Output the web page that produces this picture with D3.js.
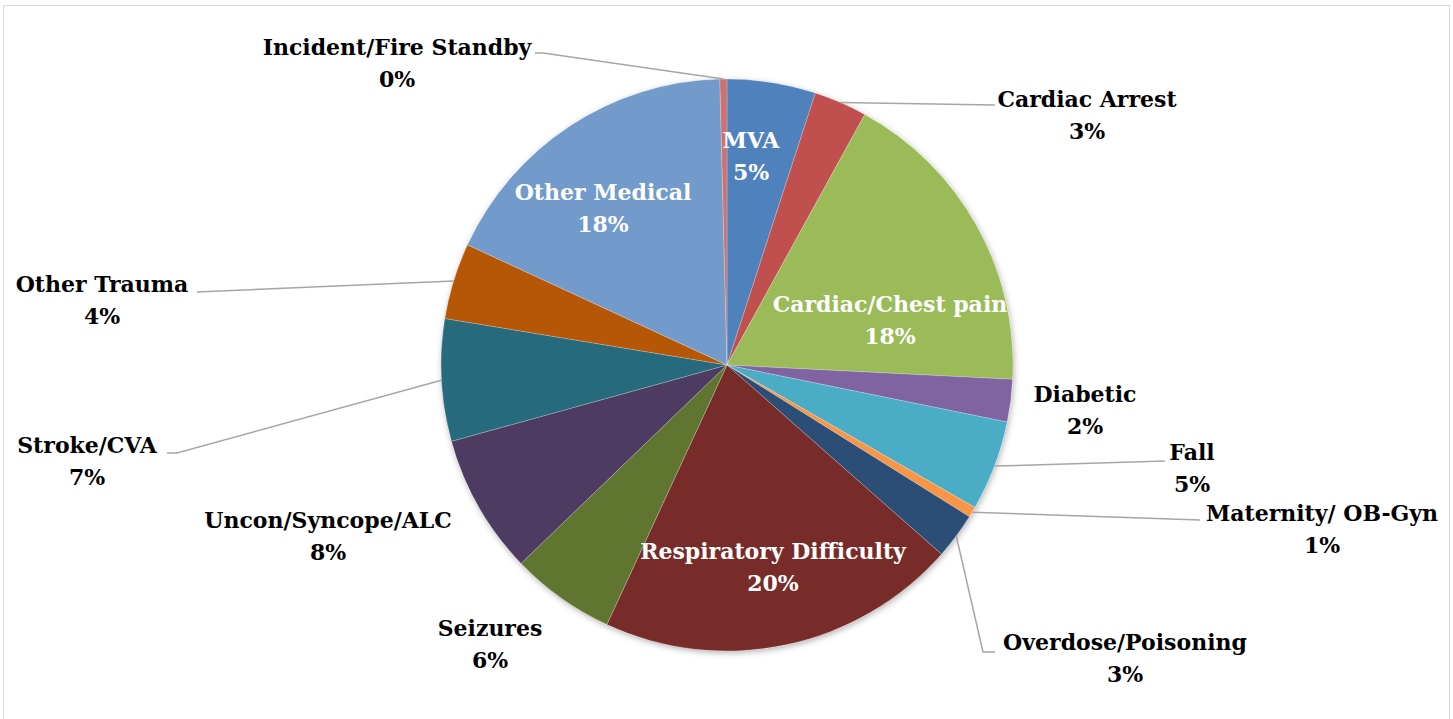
<!DOCTYPE html>
<html>
<head>
<meta charset="utf-8">
<script src="https://cdn.jsdelivr.net/npm/d3@7"></script>
<style>
  html, body { margin: 0; padding: 0; background: #fff; }
  svg { display: block; }
  text { font-family: "DejaVu Serif", serif; font-weight: bold; }
</style>
</head>
<body>
<div id="pie_dataviz"></div>
<script>
// Data (share of calls, %), clockwise from 12 o'clock
const categories = ["MVA", "Cardiac Arrest", "Cardiac/Chest pain", "Diabetic", "Fall",
  "Maternity/ OB-Gyn", "Overdose/Poisoning", "Respiratory Difficulty", "Seizures",
  "Uncon/Syncope/ALC", "Stroke/CVA", "Other Trauma", "Other Medical", "Incident/Fire Standby"];
const shares = [5.0, 3.0, 17.8, 2.4, 5.1, 0.6, 2.6, 20.4, 5.9, 7.9, 6.9, 4.3, 17.7, 0.4];
const colors = ["#4f81bd", "#c0504d", "#9bbb59", "#8064a2", "#4bacc6", "#f79646", "#2c4d75",
  "#772c2a", "#5f7530", "#4d3b62", "#276a7c", "#b65708", "#729aca", "#cf726f"];

// label layout: [x, y of first line, inside?]
const labelPos = [
  [751, 140, true], [1087, 99, false], [890, 304, true],
  [1085, 394, false], [1192, 452, false], [1322, 513, false],
  [1125, 642, false], [773, 551, true], [490, 628, false],
  [328, 520, false], [87, 445, false], [102, 284, false],
  [603, 192, true], [397, 47, false]
];
// leader line end near the label
const leaderEnd = {
  1: [[995, 105], [985, 105]], 4: [[1165, 461]], 5: [[1200, 520]],
  6: [[983, 652], [995, 652]], 10: [[177, 453], [167, 453]],
  11: [[197, 292]], 13: [[543, 53], [535, 53]]
};

const width = 1453, height = 719;
const cx = 727, cy = 365, radius = 286;

const svg = d3.select("#pie_dataviz")
  .append("svg")
  .attr("width", width)
  .attr("height", height);

const defs = svg.append("defs");
const shadow = defs.append("filter").attr("id", "shadow")
  .attr("x", "-10%").attr("y", "-10%").attr("width", "120%").attr("height", "120%");
shadow.append("feDropShadow")
  .attr("dx", 1).attr("dy", 2).attr("stdDeviation", 3)
  .attr("flood-color", "#000").attr("flood-opacity", 0.3);

// chart border
svg.append("rect")
  .attr("x", 3.5).attr("y", 5.5)
  .attr("width", 1446).attr("height", 730)
  .attr("fill", "none")
  .attr("stroke", "#d9d9d9")
  .attr("stroke-width", 1);

const data = categories.map((c, i) => ({ name: c, value: shares[i], i: i }));

const pie = d3.pie().sort(null).value(d => d.value);
const arc = d3.arc().innerRadius(0).outerRadius(radius);
const arcs = pie(data);

const g = svg.append("g").attr("transform", `translate(${cx},${cy})`);

g.append("circle").attr("r", radius).attr("fill", "#fff").attr("filter", "url(#shadow)");

g.selectAll("path")
  .data(arcs)
  .join("path")
  .attr("d", arc)
  .attr("fill", d => colors[d.data.i])
  .attr("stroke", "rgba(255,255,255,0.35)")
  .attr("stroke-width", 0.6);

// leader lines: from slice edge (mid angle) to the label
const edge = d3.arc().innerRadius(radius).outerRadius(radius);
arcs.forEach(d => {
  const ends = leaderEnd[d.data.i];
  if (!ends) return;
  const p = edge.centroid(d);
  const pts = [[p[0] + cx, p[1] + cy]].concat(ends);
  svg.append("path")
    .attr("d", d3.line()(pts))
    .attr("fill", "none")
    .attr("stroke", "#a6a6a6")
    .attr("stroke-width", 1.5);
});

// labels
arcs.forEach(d => {
  const [x, y, inside] = labelPos[d.data.i];
  const t = svg.append("text")
    .attr("text-anchor", "middle")
    .attr("font-size", 22)
    .attr("fill", inside ? "#fff" : "#000");
  t.append("tspan").attr("x", x).attr("y", y + 8).text(d.data.name);
  t.append("tspan").attr("x", x).attr("y", y + 40).text(Math.round(d.data.value) + "%");
});
</script>
</body>
</html>
